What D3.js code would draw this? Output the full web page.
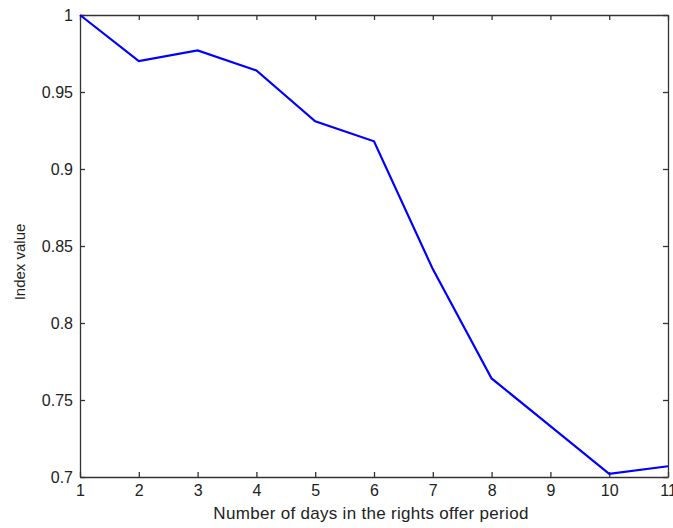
<!DOCTYPE html>
<html>
<head>
<meta charset="utf-8">
<title>Index value</title>
<style>
  body { margin: 0; background: #fff; }
  svg text { font-family: "Liberation Sans", Arial, sans-serif; fill: #222; }
</style>
</head>
<body>
<svg id="chart"></svg>
<script src="https://d3js.org/d3.v7.min.js"></script>
<script>
var days = [1, 2, 3, 4, 5, 6, 7, 8, 9, 10, 11];
var indexValues = [1.0, 0.970, 0.977, 0.964, 0.931, 0.918, 0.835, 0.764, 0.733, 0.702, 0.707];
var xTicks = [1, 2, 3, 4, 5, 6, 7, 8, 9, 10, 11];
var yTicks = [0.7, 0.75, 0.8, 0.85, 0.9, 0.95, 1];

var width = 673, height = 528;
// plot box (named so it doesn't clash with window.top)
var box = {left: 80, right: 668, top: 15, bottom: 477};

var svg = d3.select("#chart").attr("width", width).attr("height", height);

var x = d3.scaleLinear().domain([1, 11]).range([box.left, box.right]);
var y = d3.scaleLinear().domain([0.7, 1]).range([box.bottom, box.top]);

var fmt = function(d) { return String(+d.toFixed(2)); };

// axes on all four sides, ticks pointing inward like matlab
svg.append("g").attr("transform", "translate(0," + box.bottom + ")")
    .call(d3.axisBottom(x).tickValues(xTicks).tickSizeInner(-5).tickSizeOuter(0).tickPadding(8).tickFormat(d3.format("d")));
svg.append("g").attr("transform", "translate(0," + box.top + ")")
    .call(d3.axisTop(x).tickValues(xTicks).tickSizeInner(-5).tickSizeOuter(0).tickFormat(""));
svg.append("g").attr("transform", "translate(" + box.left + ",0)")
    .call(d3.axisLeft(y).tickValues(yTicks).tickSizeInner(-5).tickSizeOuter(0).tickPadding(7).tickFormat(fmt));
svg.append("g").attr("transform", "translate(" + box.right + ",0)")
    .call(d3.axisRight(y).tickValues(yTicks).tickSizeInner(-5).tickSizeOuter(0).tickFormat(""));

svg.selectAll(".domain").attr("stroke", "#333").attr("stroke-width", 1.3);
svg.selectAll(".tick line").attr("stroke", "#333").attr("stroke-width", 1.3);
svg.selectAll(".tick text")
    .style("font-family", "'Liberation Sans', Arial, sans-serif")
    .style("font-size", "16px")
    .attr("fill", "#222");

svg.append("path")
    .datum(days.map(function(d, i) { return [d, indexValues[i]]; }))
    .attr("fill", "none")
    .attr("stroke", "#0000ff")
    .attr("stroke-width", 2.2)
    .attr("d", d3.line().x(function(d) { return x(d[0]); }).y(function(d) { return y(d[1]); }));

svg.append("text")
    .attr("x", (box.left + box.right) / 2 - 3).attr("y", 519)
    .attr("text-anchor", "middle")
    .style("font-size", "17px")
    .style("letter-spacing", "0.3px")
    .text("Number of days in the rights offer period");

svg.append("text")
    .attr("transform", "translate(25,262) rotate(-90)")
    .attr("text-anchor", "middle")
    .style("font-size", "15px")
    .text("Index value");
</script>
</body>
</html>
